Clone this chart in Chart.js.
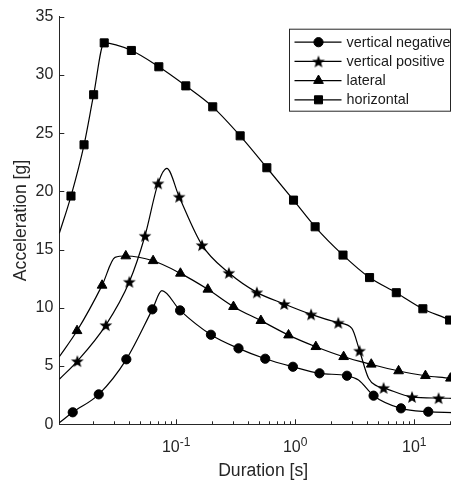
<!DOCTYPE html>
<html>
<head>
<meta charset="utf-8">
<script src="https://cdn.jsdelivr.net/npm/chart.js@4.4.1/dist/chart.umd.min.js"></script>
<style>
  html, body { margin: 0; padding: 0; background: #fff; overflow: hidden; width: 451px; height: 482px; }
</style>
</head>
<body>
<!-- the figure runs a bit past the right edge of the window, as in the cropped original -->
<canvas id="accChart" width="467" height="482"></canvas>
<script>
// marker points: duration [s] / acceleration [g]
const vnDur = [0.01355, 0.0224, 0.0382, 0.0632, 0.108, 0.196, 0.334, 0.560, 0.957, 1.60, 2.72, 4.55, 7.73, 13.1];
const vnAcc = [1.03, 2.57, 5.58, 9.87, 9.78, 7.69, 6.52, 5.63, 4.94, 4.38, 4.17, 2.46, 1.37, 1.08];
const vpDur = [0.01482, 0.0257, 0.0405, 0.0548, 0.0706, 0.106, 0.165, 0.277, 0.476, 0.809, 1.36, 2.30, 3.47, 5.52, 9.57, 16.0];
const vpAcc = [5.43, 8.52, 12.24, 16.19, 20.69, 19.54, 15.39, 13.01, 11.33, 10.33, 9.44, 8.72, 6.32, 3.13, 2.35, 2.25];
const latDur = [0.01473, 0.0239, 0.0378, 0.0641, 0.1087, 0.1846, 0.303, 0.515, 0.879, 1.49, 2.55, 4.35, 7.38, 12.4, 20.1];
const latAcc = [8.03, 11.93, 14.45, 14.04, 12.96, 11.59, 10.1, 8.9, 7.66, 6.66, 5.8, 5.15, 4.58, 4.17, 3.95];
const horDur = [0.0131, 0.01686, 0.0203, 0.0249, 0.0421, 0.0716, 0.1206, 0.203, 0.345, 0.578, 0.968, 1.47, 2.52, 4.21, 7.06, 11.8, 19.8];
const horAcc = [19.6, 24.0, 28.3, 32.75, 32.1, 30.7, 29.06, 27.26, 24.77, 22.03, 19.25, 16.96, 14.53, 12.6, 11.3, 9.92, 8.95];

// extra curve points without a marker (ends, peaks, bends)
const vnBendDur = [0.01045, 0.0759, 3.40, 21];
const vnBendAcc = [0.14, 11.47, 3.80, 1.0];
const vpBendDur = [0.01045, 0.0835, 2.99, 4.13, 4.86, 21];
const vpBendAcc = [3.86, 21.97, 8.24, 3.95, 3.29, 2.23];
const latBendDur = [0.01045, 0.0307, 21];
const latBendAcc = [5.8, 14.33, 3.92];
const horBendDur = [0.01045, 21];
const horBendAcc = [16.4, 8.8];

const seriesNames = ['vertical negative', 'vertical positive', 'lateral', 'horizontal'];
const xMin = 0.01045, xMax = 27.7;
const yMin = 0, yMax = 35, yStep = 5;

const FONT = '"Liberation Sans", Arial, Helvetica, sans-serif';
const AXIS = '#262626';

// filled pentagram like matlab 'p' marker
function makeStar(r) {
  const c = document.createElement('canvas');
  c.width = c.height = Math.ceil(r * 2 + 2);
  const g = c.getContext('2d');
  const cx = c.width / 2, cy = c.height / 2 + r * 0.1;
  g.beginPath();
  for (let i = 0; i < 10; i++) {
    const rr = i % 2 ? r * 0.42 : r;
    const a = -Math.PI / 2 + i * Math.PI / 5;
    g.lineTo(cx + rr * Math.cos(a), cy + rr * Math.sin(a));
  }
  g.closePath();
  g.fillStyle = '#000';
  g.fill();
  return c;
}
const star = makeStar(6.7);

function buildPoints(dur, acc, bDur, bAcc) {
  const pts = dur.map((d, i) => ({ x: d, y: acc[i], m: true }));
  bDur.forEach((d, i) => pts.push({ x: d, y: bAcc[i], m: false }));
  return pts.sort((a, b) => a.x - b.x);
}

function makeSet(label, pts, style, r) {
  return {
    label: label,
    data: pts,
    borderColor: '#000',
    backgroundColor: '#000',
    borderWidth: 1.2,
    cubicInterpolationMode: 'monotone',
    pointStyle: style,
    pointRadius: c => (c.raw && c.raw.m ? r : 0),
    pointHoverRadius: 0,
    pointBorderWidth: 1,
    pointBorderColor: '#000',
    pointBackgroundColor: '#000',
    markerR: r
  };
}

// matlab-style inward ticks + 10^n labels
const logAxis = {
  id: 'logAxis',
  afterDraw(chart) {
    const ctx = chart.ctx, xs = chart.scales.x, ys = chart.scales.y;
    const a = chart.chartArea;
    ctx.save();
    ctx.strokeStyle = AXIS;
    ctx.lineWidth = 1;
    ctx.beginPath();
    const majors = [];
    xs.ticks.forEach(t => {
      const v = t.value;
      if (v <= xMin * 1.001 || v >= xMax * 0.999) return;
      const e = Math.log10(v);
      const sig = v / Math.pow(10, Math.floor(e + 1e-9));
      if (Math.abs(sig - Math.round(sig)) > 1e-6) return;
      const major = Math.abs(e - Math.round(e)) < 1e-6;
      const px = Math.round(xs.getPixelForValue(v)) + 0.5;
      if (major) majors.push({ px: xs.getPixelForValue(v), exp: String(Math.round(e)) });
      ctx.moveTo(px, a.bottom);
      ctx.lineTo(px, a.bottom - (major ? 5 : 3));
    });
    ys.ticks.forEach(t => {
      const py = Math.round(ys.getPixelForValue(t.value)) + 0.5;
      ctx.moveTo(a.left, py);
      ctx.lineTo(a.left + 5, py);
    });
    ctx.stroke();

    ctx.fillStyle = AXIS;
    ctx.textBaseline = 'alphabetic';
    ctx.textAlign = 'left';
    const base = a.bottom + 27.4;
    majors.forEach(m => {
      ctx.font = '16px ' + FONT;
      const w1 = ctx.measureText('10').width;
      ctx.font = '12px ' + FONT;
      const w2 = ctx.measureText(m.exp).width;
      const x0 = m.px - (w1 + w2) / 2;
      ctx.font = '16px ' + FONT;
      ctx.fillText('10', x0, base);
      ctx.font = '12px ' + FONT;
      ctx.fillText(m.exp, x0 + w1, base - 5.3);
    });
    ctx.restore();
  }
};

// boxed legend with line + marker samples
const boxLegend = {
  id: 'boxLegend',
  afterDraw(chart) {
    const ctx = chart.ctx, a = chart.chartArea;
    const left = 289.5, top = a.top + 12.5, w = 161, h = 82;
    ctx.save();
    ctx.fillStyle = '#fff';
    ctx.fillRect(left, top, w, h);
    ctx.strokeStyle = AXIS;
    ctx.lineWidth = 1;
    ctx.strokeRect(left, top, w, h);
    ctx.font = '14.4px ' + FONT;
    ctx.textBaseline = 'middle';
    chart.data.datasets.forEach((ds, i) => {
      const y = top + 13 + i * 19.2;
      ctx.strokeStyle = '#000';
      ctx.lineWidth = 1.2;
      ctx.beginPath();
      ctx.moveTo(left + 5, y);
      ctx.lineTo(left + 52, y);
      ctx.stroke();
      ctx.fillStyle = '#000';
      ctx.lineWidth = 1;
      Chart.helpers.drawPoint(ctx, { pointStyle: ds.pointStyle, radius: ds.markerR, borderWidth: 1, rotation: 0 }, left + 29, y);
      ctx.fillStyle = '#1a1a1a';
      ctx.fillText(ds.label, left + 57, y + 0.5);
    });
    ctx.restore();
  }
};

new Chart(document.getElementById('accChart'), {
  type: 'line',
  data: {
    datasets: [
      makeSet(seriesNames[0], buildPoints(vnDur, vnAcc, vnBendDur, vnBendAcc), 'circle', 4.6),
      makeSet(seriesNames[1], buildPoints(vpDur, vpAcc, vpBendDur, vpBendAcc), star, 6),
      makeSet(seriesNames[2], buildPoints(latDur, latAcc, latBendDur, latBendAcc), 'triangle', 5.6),
      makeSet(seriesNames[3], buildPoints(horDur, horAcc, horBendDur, horBendAcc), 'rect', 5.7)
    ]
  },
  options: {
    responsive: false,
    animation: false,
    devicePixelRatio: 1,
    layout: { padding: { top: 16.7, left: 0, right: 0, bottom: 0 } },
    plugins: { legend: { display: false }, tooltip: { enabled: false } },
    scales: {
      x: {
        type: 'logarithmic',
        min: xMin,
        max: xMax,
        grid: { display: false, drawTicks: false },
        border: { display: true, color: AXIS, width: 1 },
        ticks: { display: false, autoSkip: false },
        title: { display: true, text: 'Duration [s]', color: AXIS, font: { family: FONT, size: 17.6 }, padding: { top: 0, bottom: 0.5 } },
        afterFit: s => { s.height = 57.7; s.paddingLeft = 0; s.paddingRight = 0; }
      },
      y: {
        min: yMin,
        max: yMax,
        grid: { display: false, drawTicks: false },
        border: { display: true, color: AXIS, width: 1 },
        ticks: { stepSize: yStep, padding: 6, color: AXIS, font: { family: FONT, size: 16 } },
        title: { display: true, text: 'Acceleration [g]', color: AXIS, font: { family: FONT, size: 17.6 }, padding: { top: 10.4, bottom: 0 } },
        afterFit: s => { s.width = 59.3; s.paddingTop = 0; s.paddingBottom = 0; }
      }
    }
  },
  plugins: [logAxis, boxLegend]
});
</script>
</body>
</html>
